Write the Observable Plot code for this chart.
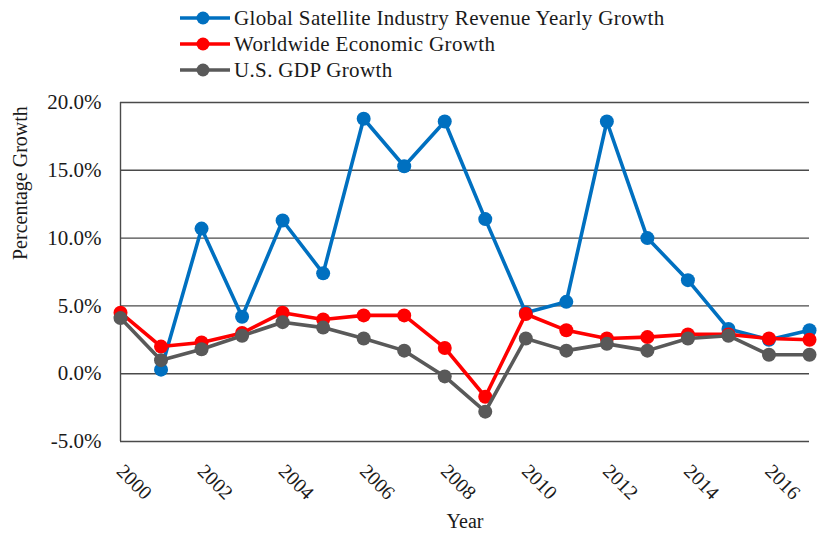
<!DOCTYPE html>
<html><head><meta charset="utf-8">
<script src="https://cdn.jsdelivr.net/npm/d3@7"></script>
<script src="https://cdn.jsdelivr.net/npm/@observablehq/plot@0.6"></script>
<style>
body{margin:0;background:#fff;font-family:"Liberation Serif","Times New Roman",serif;}
#wrap{position:relative;width:817px;height:537px;overflow:hidden;}
#chart svg, #chart svg text{font-family:"Liberation Serif","Times New Roman",serif !important;}
#chart g[aria-label="ytick"] text{letter-spacing:1.4px;}
#chart g[aria-label="xtick"] text{letter-spacing:1px;}
#chart g[aria-label="xtitle"] text{letter-spacing:1px;}
#legend{position:absolute;left:180px;top:5px;font-size:21px;color:#1a1a1a;line-height:26px;letter-spacing:0.35px;}
.row{display:flex;align-items:center;height:26px;}
.row svg{margin-right:4px;}
</style></head>
<body><div id="wrap"><div id="chart"></div><div id="legend"></div></div>
<script>
const years = [2000,2001,2002,2003,2004,2005,2006,2007,2008,2009,2010,2011,2012,2013,2014,2015,2016,2017];
const satellite = [null,0.3,10.7,4.2,11.3,7.4,18.8,15.3,18.6,11.4,4.5,5.3,18.6,10.0,6.9,3.3,2.5,3.2];
const worldwide = [4.5,2.0,2.3,3.0,4.5,4.0,4.3,4.3,1.9,-1.7,4.4,3.2,2.6,2.7,2.9,2.9,2.6,2.5];
const usGdp = [4.1,1.0,1.8,2.8,3.8,3.4,2.6,1.7,-0.2,-2.8,2.6,1.7,2.2,1.7,2.6,2.8,1.4,1.4];
const seriesNames = ["Global Satellite Industry Revenue Yearly Growth","Worldwide Economic Growth","U.S. GDP Growth"];
const seriesColors = ["#0070C0","#FF0000","#595959"];
const yTicks = [-5,0,5,10,15,20];
const xTicks = [2000,2002,2004,2006,2008,2010,2012,2014,2016];
const xTitle = "Year";
const yTitle = "Percentage Growth";

const allSeries = [satellite, worldwide, usGdp];
const tables = allSeries.map(vals => years.map((y,i)=>({year:y, value:vals[i]})).filter(d=>d.value!=null));

const serif = "'Liberation Serif','Times New Roman',serif";
const marks = [
  Plot.ruleY(yTicks, {stroke:"#4a4a4a", strokeWidth:1.4}),
  Plot.ruleX([2000], {stroke:"#4a4a4a", strokeWidth:1.4}),
  Plot.text(yTicks, {ariaLabel:"ytick", y:d=>d, frameAnchor:"left", textAnchor:"end", dx:-19, fontSize:21, fontFamily:serif, fill:"#1a1a1a", text:d=>d.toFixed(1)+"%"}),
  Plot.text(xTicks, {ariaLabel:"xtick", x:d=>d, frameAnchor:"bottom", rotate:45, textAnchor:"start", lineAnchor:"top", dx:5, dy:21, fontSize:20, fontFamily:serif, fill:"#1a1a1a", text:d=>String(d)}),
  Plot.text([yTitle], {frameAnchor:"left", rotate:-90, dx:-100, dy:-12, fontSize:20, fontFamily:serif, fill:"#1a1a1a", text:d=>d}),
  Plot.text([xTitle], {ariaLabel:"xtitle", frameAnchor:"bottom", dy:86, fontSize:20, fontFamily:serif, fill:"#1a1a1a", text:d=>d})
];
tables.forEach((t,k)=>{
  marks.push(Plot.line(t, {x:"year", y:"value", stroke:seriesColors[k], strokeWidth:3.6}));
  marks.push(Plot.dot(t, {x:"year", y:"value", fill:seriesColors[k], r:7}));
});

const chart = Plot.plot({
  width:817, height:537,
  marginTop:102, marginBottom:96, marginLeft:120, marginRight:8,
  style:{fontSize:"20px", color:"#1a1a1a", background:"#fff"},
  x:{domain:[2000,2017], axis:null},
  y:{domain:[-5,20], axis:null},
  marks
});
document.getElementById("chart").appendChild(chart);

const legend = document.getElementById("legend");
seriesNames.forEach((name,k)=>{
  const row = document.createElement("div");
  row.className = "row";
  row.innerHTML = `<svg width="50" height="16"><line x1="0" x2="50" y1="8" y2="8" stroke="${seriesColors[k]}" stroke-width="3.6"/><circle cx="23" cy="8" r="6.5" fill="${seriesColors[k]}"/></svg><span>${name}</span>`;
  legend.appendChild(row);
});
</script>
</body></html>
